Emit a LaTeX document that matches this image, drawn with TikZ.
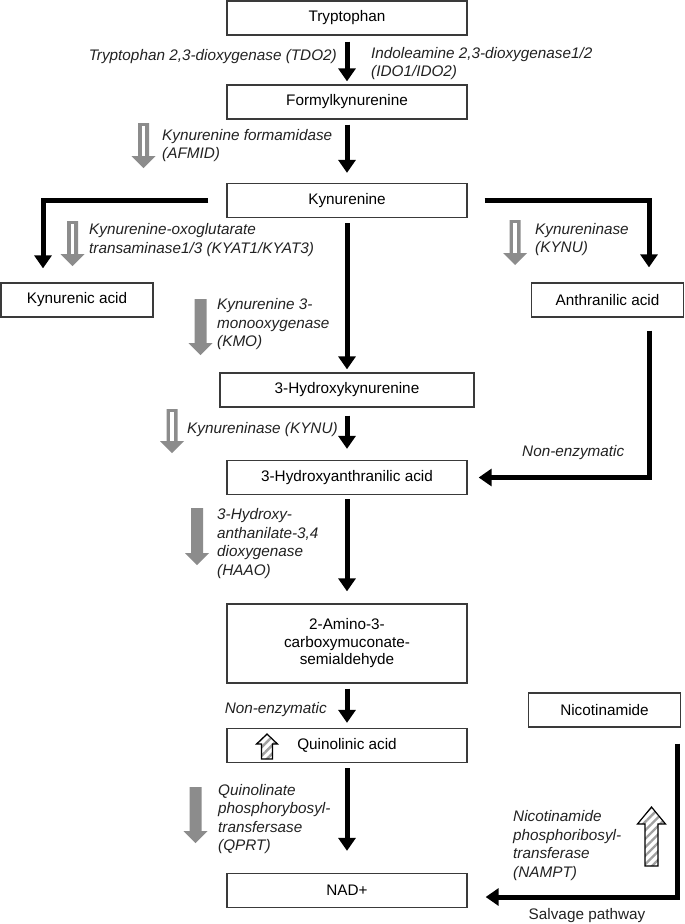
\documentclass[tikz,border=0pt]{standalone}
\usepackage{fontspec}
\setmainfont{Liberation Sans}
\usetikzlibrary{arrows.meta,patterns.meta}
\definecolor{boxline}{HTML}{3A3A3A}
\definecolor{arrgray}{HTML}{8C8C8C}
\definecolor{labtext}{HTML}{222222}
\definecolor{stripegray}{HTML}{A0A0A0}
\begin{document}
\begin{tikzpicture}[x=1pt,y=-1pt,
  font=\fontsize{15.3}{18.5}\selectfont,
  box/.style={draw=boxline, line width=1.3pt, minimum height=34pt, inner sep=0pt, align=center},
  mainbox/.style={box, minimum width=240pt},
  sidebox/.style={box, minimum width=152pt},
  lab/.style={font=\fontsize{15.3}{18.5}\selectfont\itshape, text=labtext, inner sep=0pt, align=left, anchor=west},
  main/.style={line width=5pt, draw=black, -{Triangle[width=17pt,length=13pt]}},
  stripearrow/.style={draw=black, line width=1.2pt, line join=miter,
     pattern={Lines[angle=45,distance=6pt,line width=2.4pt]}, pattern color=stripegray},
  pics/gfill/.style={code={
     \fill[arrgray] (-6,0) -- (6,0) -- (6,#1-12) -- (12,#1-12) -- (0,#1) -- (-12,#1-12) -- (-6,#1-12) -- cycle;}},
  pics/ghollow/.style={code={
     \fill[arrgray] (-5.5,0) -- (5.5,0) -- (5.5,#1-12) -- (12,#1-12) -- (0,#1) -- (-12,#1-12) -- (-5.5,#1-12) -- cycle;
     \fill[white] (-1.6,2.5) rectangle (1.6,#1-12.5);}}
]
\fill[white] (0,0) rectangle (685,924);
\useasboundingbox (0,0) rectangle (685,924);

% boxes
\node[mainbox] (tryp) at (347,18) {Tryptophan};
\node[mainbox] (formyl) at (347,102) {Formylkynurenine};
\node[mainbox] (kyn) at (347,200.5) {Kynurenine};
\node[sidebox] (kynac) at (77,300) {Kynurenic acid};
\node[sidebox] (anthr) at (607.5,300) {Anthranilic acid};
\node[box, minimum width=254pt] (hk) at (347,390) {3-Hydroxykynurenine};
\node[mainbox] (haa) at (347,477.5) {3-Hydroxyanthranilic acid};
\node[mainbox, minimum height=79pt, font=\fontsize{15.3}{17.5}\selectfont] (acms) at (347,643.5) {2-Amino-3-\\carboxymuconate-\\semialdehyde};
\node[mainbox] (quin) at (347,745.5) {Quinolinic acid};
\node[sidebox] (nicot) at (604.5,710) {Nicotinamide};
\node[mainbox] (nad) at (347,890.5) {NAD+};

% main black arrows
\draw[main, shorten <=6pt, shorten >=3pt] (tryp) -- (formyl);
\draw[main, shorten <=5pt, shorten >=10pt] (formyl) -- (kyn);
\draw[main, shorten <=5pt, shorten >=3pt] (kyn) -- (hk);
\draw[main, shorten <=8pt, shorten >=11pt] (hk) -- (haa);
\draw[main, shorten <=4pt, shorten >=12pt] (haa) -- (acms);
\draw[main, shorten <=5pt, shorten >=5pt] (acms) -- (quin);
\draw[main, shorten <=5pt, shorten >=22pt] (quin) -- (nad);

% elbow arrows
\draw[main] ([xshift=-18pt]kyn.west) -| ([xshift=-34pt,yshift=14pt]kynac.north);
\draw[main] ([xshift=17pt]kyn.east) -| ([xshift=41.5pt,yshift=15pt]anthr.north);
\draw[main] ([xshift=41.5pt,yshift=-13pt]anthr.south) |- ([xshift=11pt]haa.east);
\draw[main] ([xshift=72.5pt,yshift=-16pt]nicot.south) |- ([xshift=18pt,yshift=-6.5pt]nad.east);

% gray enzyme arrows
\pic at (143.5,123) {ghollow=45};
\pic at (72.5,221) {ghollow=45};
\pic at (515,220) {ghollow=45};
\pic at (172,409) {ghollow=44};
\pic at (200.5,299) {gfill=56};
\pic at (197,508) {gfill=57};
\pic at (195.5,787) {gfill=56};

% striped arrows
\path[stripearrow] (261.5,759) -- (272.5,759) -- (272.5,744) -- (277.5,744) -- (267,734) -- (256.5,744) -- (261.5,744) -- cycle;
\path[stripearrow] (645,866) -- (658,866) -- (658,824) -- (665.5,824) -- (651.5,807) -- (637.5,824) -- (645,824) -- cycle;

% labels
\node[lab, anchor=east] (tdo) at (337,57) {Tryptophan 2,3-dioxygenase (TDO2)};
\node[lab] (ido) at (371,63.5) {Indoleamine 2,3-dioxygenase1/2\\(IDO1/IDO2)};
\node[lab] (afmid) at (162,145.5) {Kynurenine formamidase\\(AFMID)};
\node[lab] (kyat) at (89,240) {Kynurenine-oxoglutarate\\transaminase1/3 (KYAT1/KYAT3)};
\node[lab] (kynu1) at (535,239.5) {Kynureninase\\(KYNU)};
\node[lab] (kmo) at (217,324.5) {Kynurenine 3-\\monooxygenase\\(KMO)};
\node[lab] (kynu2) at (187,430) {Kynureninase (KYNU)};
\node[lab] (ne1) at (522,453) {Non-enzymatic};
\node[lab] (haao) at (217,543.5) {3-Hydroxy-\\anthanilate-3,4\\dioxygenase\\(HAAO)};
\node[lab, anchor=east] (ne2) at (327,710) {Non-enzymatic};
\node[lab] (qprt) at (218,819) {Quinolinate\\phosphorybosyl-\\transfersase\\(QPRT)};
\node[lab] (nampt) at (513,845.5) {Nicotinamide\\phosphoribosyl-\\transferase\\(NAMPT)};
\node[inner sep=0pt, text=labtext] (salv) at (587,916) {Salvage pathway};
\end{tikzpicture}
\end{document}
